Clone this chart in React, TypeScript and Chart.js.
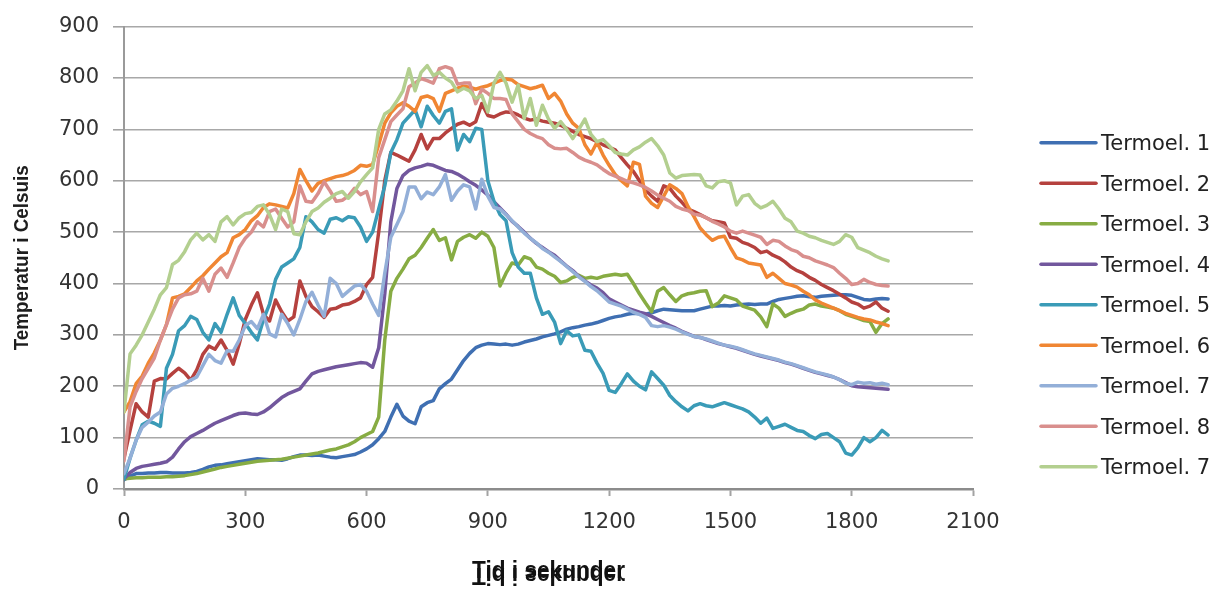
import React, { useEffect, useRef } from "react";
import { Chart, registerables } from "chart.js";

Chart.register(...registerables);

// Logger time stamps (seconds), one reading every 15 s
const timeSeconds: number[] = [
  0, 15, 30, 45, 60, 75, 90, 105, 120, 135,
  150, 165, 180, 195, 210, 225, 240, 255, 270, 285,
  300, 315, 330, 345, 360, 375, 390, 405, 420, 435,
  450, 465, 480, 495, 510, 525, 540, 555, 570, 585,
  600, 615, 630, 645, 660, 675, 690, 705, 720, 735,
  750, 765, 780, 795, 810, 825, 840, 855, 870, 885,
  900, 915, 930, 945, 960, 975, 990, 1005, 1020, 1035,
  1050, 1065, 1080, 1095, 1110, 1125, 1140, 1155, 1170, 1185,
  1200, 1215, 1230, 1245, 1260, 1275, 1290, 1305, 1320, 1335,
  1350, 1365, 1380, 1395, 1410, 1425, 1440, 1455, 1470, 1485,
  1500, 1515, 1530, 1545, 1560, 1575, 1590, 1605, 1620, 1635,
  1650, 1665, 1680, 1695, 1710, 1725, 1740, 1755, 1770, 1785,
  1800, 1815, 1830, 1845, 1860, 1875, 1890,
];

const seriesLabels: string[] = [
  "Termoel. 1", "Termoel. 2", "Termoel. 3", "Termoel. 4", "Termoel. 5",
  "Termoel. 6", "Termoel. 7", "Termoel. 8", "Termoel. 7",
];

const termoel1: number[] = [
  18, 25, 30, 30, 31, 31, 32, 32, 31, 31,
  31, 32, 34, 38, 43, 46, 47, 49, 51, 53,
  55, 57, 59, 58, 57, 57, 56, 59, 63, 66,
  66, 65, 66, 64, 62, 61, 63, 65, 67, 72,
  78, 86, 98, 112, 140, 165, 142, 132, 127, 160,
  168, 172, 195, 205, 214, 232, 250, 264, 275, 280,
  283, 282, 281, 282, 280, 282, 286, 289, 292, 296,
  299, 302, 306, 311, 314, 316, 319, 321, 324, 328,
  332, 335, 337, 340, 342, 341, 340, 343, 347, 350,
  349, 348, 347, 347, 347, 350, 353, 356, 356, 357,
  356, 358, 359, 360, 359, 360, 360, 365, 369, 371,
  373, 375, 376, 374, 373, 375, 376, 377, 378, 378,
  377, 373, 369, 368, 370, 371, 370,
];

const termoel2: number[] = [
  60, 114, 166, 150, 140, 210, 215, 214, 225, 235,
  226, 212, 232, 262, 278, 272, 290, 270, 243, 282,
  330, 358, 382, 340, 327, 368, 345, 327, 335, 405,
  375, 355, 345, 334, 350, 352, 358, 360, 365, 372,
  398, 412, 500, 600, 655, 650, 644, 638, 660, 690,
  662, 682, 682, 693, 702, 710, 714, 708, 715, 750,
  727, 724, 730, 734, 733, 728, 722, 718, 720, 716,
  714, 712, 708, 702, 696, 690, 686, 682, 676, 670,
  665, 660, 645, 631, 618, 600, 582, 570, 560, 590,
  585, 570, 558, 545, 540, 534, 528, 522, 520, 518,
  490, 488, 480, 476, 470, 460, 463, 455, 450, 442,
  432, 425, 420, 412, 406, 398, 392, 386, 379, 372,
  364, 360, 352, 356, 364, 352, 346,
];

const termoel3: number[] = [
  20, 21, 22, 22, 23, 23, 23, 24, 24, 25,
  26, 28, 30, 33, 36, 39, 42, 44, 46, 48,
  50, 52, 54, 55, 56, 57, 58, 60, 62, 64,
  66, 68, 70, 73, 76, 78, 82, 86, 92, 100,
  106, 112, 140, 290, 385, 410, 428, 448, 455, 470,
  488, 505, 484, 489, 446, 482, 490, 495, 488, 500,
  492, 470, 395, 420, 440, 436, 452, 448, 432, 428,
  420, 414, 402, 405, 412, 416, 410, 412, 410, 414,
  416, 418, 416, 418, 400, 380, 362, 345, 385, 392,
  378, 365, 376, 380, 382, 385, 386, 355, 362, 376,
  372, 368, 356, 352, 348, 335, 316, 360, 352, 336,
  342, 347, 350, 358, 360, 356, 354, 352, 347, 340,
  336, 332, 328, 326, 305, 322, 331,
];

const termoel4: number[] = [
  20, 32, 40, 44, 46, 48, 50, 53, 62, 78,
  92, 102, 108, 114, 121, 128, 133, 138, 143, 147,
  148, 146, 145, 150, 158, 168, 178, 185, 190, 195,
  210, 224, 229, 232, 235, 238, 240, 242, 244, 246,
  245, 237, 275, 380, 520, 585, 610, 620, 625, 628,
  632, 630, 625, 620, 618, 613, 606, 598, 591, 582,
  572, 559, 547, 535, 521, 511, 500, 488, 478, 470,
  462, 455, 444, 434, 425, 414, 405, 397, 391, 382,
  370, 364, 358, 352, 348, 344, 341, 336, 330, 324,
  318, 313, 307, 302, 297, 295, 291, 287, 283, 280,
  277, 274, 270, 266, 262, 259, 256, 253, 250, 246,
  243, 239, 235, 231, 227, 224, 221, 218, 213, 207,
  201, 199, 198, 197, 196, 195, 194,
];

const termoel5: number[] = [
  20, 60, 95, 125, 132, 128, 122, 235, 262, 308,
  318, 336, 330, 305, 290, 322, 305, 340, 372, 338,
  322, 305, 290, 330, 360, 408, 432, 440, 448, 470,
  530, 520, 505, 498, 525, 528, 522, 530, 528, 510,
  482, 500, 545, 590, 655, 680, 712, 725, 738, 705,
  745, 727, 712, 735, 740, 660, 690, 676, 702, 700,
  600, 560, 534, 522, 460, 432, 420, 420, 372, 340,
  345, 325, 283, 308, 298, 300, 270, 268, 245, 225,
  192, 188, 205, 224, 210, 200, 193, 228, 215, 202,
  182, 170, 160, 152, 162, 166, 162, 160, 164, 168,
  164, 160, 156, 150, 140, 128, 138, 118, 122, 126,
  120, 114, 112, 104, 98, 106, 108, 100, 92, 70,
  66, 80, 100, 92, 100, 114, 105,
];

const termoel6: number[] = [
  150, 170, 205, 220, 245, 265, 290, 320, 372, 375,
  380, 392, 405, 415, 428, 440, 452, 460, 489, 495,
  505, 522, 532, 548, 555, 553, 550, 547, 575, 622,
  600, 580, 595, 600, 604, 608, 610, 614, 620, 630,
  628, 632, 670, 712, 732, 745, 752, 745, 735, 762,
  765, 760, 735, 770, 775, 780, 784, 782, 778, 782,
  785, 790, 795, 798, 796, 787, 783, 779, 782, 786,
  760, 770, 755, 730, 712, 702, 670, 652, 675, 650,
  630, 612, 600, 590, 636, 632, 570, 556, 548, 570,
  592, 585, 575, 550, 530, 508, 495, 484, 490, 492,
  470, 450, 446, 440, 438, 436, 412, 420, 410, 400,
  397, 393, 385, 378, 368, 362, 357, 352, 347, 342,
  338, 334, 331, 329, 325, 322, 318,
];

const termoel7: number[] = [
  30, 60, 95, 120, 130, 142, 150, 185, 196, 200,
  205, 212, 218, 240, 262, 250, 245, 269, 268, 290,
  318, 326, 312, 340, 302, 296, 340, 322, 300, 330,
  365, 383, 358, 336, 410, 400, 375, 385, 395, 398,
  385, 360, 338, 420, 490, 515, 540, 588, 588, 565,
  578, 573, 588, 612, 562, 580, 592, 588, 545, 603,
  570, 548, 545, 534, 522, 510, 498, 488, 479, 468,
  461, 452, 443, 433, 423, 413, 404, 394, 386, 375,
  364, 360, 356, 350, 344, 340, 334, 318, 316, 318,
  315, 311, 306, 301, 297, 295, 292, 288, 284, 280,
  278, 275, 271, 267, 263, 260, 257, 254, 251, 247,
  244, 240, 236, 232, 228, 225, 222, 218, 213, 206,
  203, 208, 206, 207, 204, 206, 203,
];

const termoel8: number[] = [
  55, 160, 190, 215, 235, 255, 290, 320, 350, 372,
  378, 380, 385, 410, 385, 418, 430, 412, 440, 470,
  488, 500, 520, 510, 540, 545, 527, 510, 520, 590,
  560, 558, 575, 598, 580, 560, 562, 570, 585, 573,
  579, 540, 645, 680, 715, 728, 740, 783, 790, 799,
  795, 790, 818, 822, 818, 788, 790, 790, 750, 778,
  770, 760, 760, 758, 730, 715, 700, 692, 686, 682,
  670, 663, 662, 663, 655, 646, 640, 636, 631, 622,
  614, 609, 604, 599, 596, 592, 587, 580, 572, 566,
  560, 550, 545, 542, 535, 533, 528, 521, 516, 510,
  502, 498, 502, 498, 494, 490, 476, 484, 482, 473,
  466, 462, 453, 450, 444, 440, 436, 431, 420, 410,
  398, 400, 408, 402, 398, 396, 395,
];

const termoel7b: number[] = [
  150, 263, 280, 300, 325, 350, 378, 392, 437, 445,
  462, 485, 498, 485, 495, 482, 520, 530, 514, 528,
  536, 538, 550, 553, 534, 505, 545, 540, 497, 495,
  520, 540, 547, 558, 566, 575, 579, 566, 579, 598,
  612, 625, 700, 730, 738, 755, 775, 818, 775, 811,
  824, 805, 811, 800, 792, 773, 780, 775, 760, 766,
  734, 790, 811, 790, 753, 786, 721, 760, 708, 747,
  720, 702, 715, 700, 682, 700, 720, 690, 676, 680,
  668, 655, 652, 650, 660, 666, 675, 682, 668, 650,
  615, 605, 610, 611, 612, 611, 590, 586, 598, 600,
  596, 553, 570, 573, 556, 547, 552, 560, 545, 527,
  520, 502, 498, 492, 489, 484, 480, 476, 482, 495,
  490, 470, 465, 460, 453, 448, 444,
];

const seriesValues: number[][] = [
  termoel1, termoel2, termoel3, termoel4, termoel5,
  termoel6, termoel7, termoel8, termoel7b,
];

const seriesColors: string[] = [
  "#3f6fb2", "#b5413e", "#87ac43", "#72579d", "#3a9bb7",
  "#f08633", "#93afd8", "#d98f8d", "#b3cf8f",
];

const xTickValues: number[] = [0, 300, 600, 900, 1200, 1500, 1800, 2100];
const yTickValues: number[] = [0, 100, 200, 300, 400, 500, 600, 700, 800, 900];

const yAxisTitle = "Temperatur i Celsuis";
const xAxisTitle = "Tid i sekunder";

const tickFont = { family: "'DejaVu Sans', Verdana, sans-serif", size: 21 };

// Axis titles and the series key, painted after the chart itself
const decorations = {
  id: "decorations",
  afterDraw(chart: any) {
    const ctx: CanvasRenderingContext2D = chart.ctx;
    const area = chart.chartArea;
    const midY = (area.top + area.bottom) / 2;
    const midX = (area.left + area.right) / 2;

    // vertical axis title
    ctx.save();
    ctx.fillStyle = "#1e1e1e";
    ctx.font = "bold 20px 'Liberation Sans', Arial, sans-serif";
    ctx.textAlign = "center";
    ctx.textBaseline = "alphabetic";
    ctx.translate(28, midY);
    ctx.rotate(-Math.PI / 2);
    ctx.fillText(yAxisTitle, 0, 0, 185);
    ctx.restore();

    // horizontal axis title, printed over a mirrored copy of itself
    ctx.save();
    ctx.fillStyle = "#111";
    ctx.font = "bold 23px 'Liberation Sans', Arial, sans-serif";
    ctx.textAlign = "center";
    ctx.textBaseline = "alphabetic";
    ctx.fillText(xAxisTitle, midX, 578, 153);
    ctx.translate(midX, 573);
    ctx.scale(1, -1);
    ctx.fillText(xAxisTitle, 0, 5, 153);
    ctx.restore();

    // series key on the right
    ctx.save();
    ctx.font = "21px 'DejaVu Sans', Verdana, sans-serif";
    ctx.textAlign = "left";
    ctx.textBaseline = "alphabetic";
    chart.data.datasets.forEach((ds: any, i: number) => {
      const y = 142.7 + i * 40.5;
      ctx.strokeStyle = ds.borderColor;
      ctx.lineWidth = 3.5;
      ctx.lineCap = "round";
      ctx.beginPath();
      ctx.moveTo(1041, y);
      ctx.lineTo(1096, y);
      ctx.stroke();
      ctx.fillStyle = "#222";
      ctx.fillText(ds.label, 1101, y + 7.5);
    });
    ctx.restore();
  },
};

const plainNumber = (value: number | string) => String(value);

export default function App() {
  const canvasRef = useRef<HTMLCanvasElement | null>(null);

  useEffect(() => {
    const canvas = canvasRef.current;
    if (!canvas) return;

    const datasets = seriesValues.map((values, i) => ({
      label: seriesLabels[i],
      data: values.map((v, k) => ({ x: timeSeconds[k], y: v })),
      borderColor: seriesColors[i],
      backgroundColor: seriesColors[i],
      borderWidth: 3.5,
      pointRadius: 0,
      tension: 0,
      borderJoinStyle: "round" as const,
      borderCapStyle: "round" as const,
      order: seriesValues.length - i,
    }));

    const chart = new Chart(canvas, {
      type: "line",
      data: { datasets },
      options: {
        responsive: false,
        animation: false,
        devicePixelRatio: 1,
        layout: { padding: { left: 0, top: 24, right: 248, bottom: 0 } },
        plugins: {
          legend: { display: false },
          tooltip: { enabled: false },
          title: { display: false },
        },
        scales: {
          x: {
            type: "linear",
            min: 0,
            max: 2100,
            afterBuildTicks: (scale: any) => {
              scale.ticks = xTickValues.map((v) => ({ value: v }));
            },
            ticks: {
              font: tickFont,
              color: "#333",
              padding: 14,
              maxRotation: 0,
              autoSkip: false,
              callback: plainNumber,
            },
            grid: {
              drawOnChartArea: false,
              drawTicks: true,
              tickLength: 7,
              tickColor: "#a3a3a3",
              tickWidth: 2,
            },
            border: { color: "#8c8c8c", width: 2.5 },
            afterFit: (scale: any) => {
              scale.height = 101;
            },
          },
          y: {
            min: 0,
            max: 900,
            afterBuildTicks: (scale: any) => {
              scale.ticks = yTickValues.map((v) => ({ value: v }));
            },
            ticks: {
              font: tickFont,
              color: "#333",
              padding: 14,
              callback: plainNumber,
            },
            grid: {
              color: "#a8a8a8",
              lineWidth: 1.6,
              tickLength: 11,
              tickColor: "#a3a3a3",
            },
            border: { color: "#9a9a9a", width: 2 },
            afterFit: (scale: any) => {
              scale.width = 124;
            },
          },
        },
      },
      plugins: [decorations],
    });

    return () => chart.destroy();
  }, []);

  return (
    <div
      style={{
        position: "fixed",
        left: 0,
        top: 0,
        width: 1221,
        height: 590,
        background: "#ffffff",
      }}
    >
      <canvas ref={canvasRef} width={1221} height={590} style={{ display: "block" }} />
    </div>
  );
}
